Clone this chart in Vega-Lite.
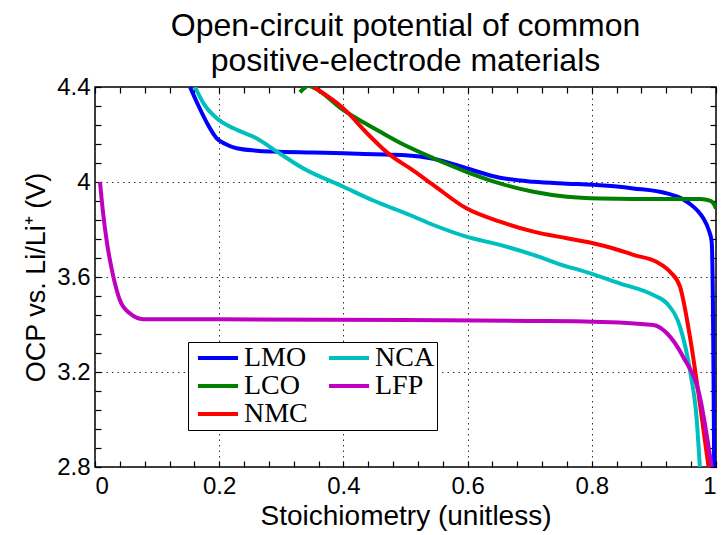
{
  "$schema": "https://vega.github.io/schema/vega-lite/v6.json",
  "width": 621,
  "height": 380,
  "autosize": {"type": "none"},
  "padding": {"left": 95, "top": 87, "right": 11, "bottom": 68},
  "background": "white",
  "config": {"view": {"stroke": "black", "strokeWidth": 1.5}, "font": "Liberation Sans"},
  "title": {
    "text": ["Open-circuit potential of common", "positive-electrode materials"],
    "fontSize": 32, "fontWeight": "normal", "font": "Liberation Sans", "color": "black",
    "lineHeight": 35, "offset": -3, "anchor": "middle"
  },
  "data": {"values": [
    {"m":"LMO","x":0.153,"y":4.40},{"m":"LMO","x":0.165,"y":4.33},{"m":"LMO","x":0.18,"y":4.25},{"m":"LMO","x":0.196,"y":4.184},{"m":"LMO","x":0.21,"y":4.16},{"m":"LMO","x":0.228,"y":4.142},{"m":"LMO","x":0.26,"y":4.132},{"m":"LMO","x":0.287,"y":4.128},{"m":"LMO","x":0.35,"y":4.124},{"m":"LMO","x":0.4,"y":4.121},{"m":"LMO","x":0.45,"y":4.117},{"m":"LMO","x":0.5,"y":4.113},{"m":"LMO","x":0.545,"y":4.098},{"m":"LMO","x":0.598,"y":4.058},{"m":"LMO","x":0.652,"y":4.018},{"m":"LMO","x":0.706,"y":4.001},{"m":"LMO","x":0.76,"y":3.993},{"m":"LMO","x":0.802,"y":3.988},{"m":"LMO","x":0.867,"y":3.973},{"m":"LMO","x":0.921,"y":3.952},{"m":"LMO","x":0.945,"y":3.93},{"m":"LMO","x":0.958,"y":3.908},{"m":"LMO","x":0.97,"y":3.88},{"m":"LMO","x":0.98,"y":3.845},{"m":"LMO","x":0.988,"y":3.80},{"m":"LMO","x":0.993,"y":3.749},{"m":"LMO","x":0.995,"y":3.5},{"m":"LMO","x":0.996,"y":3.2},{"m":"LMO","x":0.997,"y":2.8},
    {"m":"LCO","x":0.330,"y":4.378},{"m":"LCO","x":0.337,"y":4.395},{"m":"LCO","x":0.343,"y":4.405},{"m":"LCO","x":0.35,"y":4.40},{"m":"LCO","x":0.4,"y":4.303},{"m":"LCO","x":0.45,"y":4.225},{"m":"LCO","x":0.491,"y":4.165},{"m":"LCO","x":0.545,"y":4.1},{"m":"LCO","x":0.598,"y":4.043},{"m":"LCO","x":0.652,"y":3.994},{"m":"LCO","x":0.706,"y":3.959},{"m":"LCO","x":0.76,"y":3.938},{"m":"LCO","x":0.813,"y":3.931},{"m":"LCO","x":0.921,"y":3.928},{"m":"LCO","x":0.974,"y":3.928},{"m":"LCO","x":0.985,"y":3.925},{"m":"LCO","x":0.993,"y":3.918},{"m":"LCO","x":0.997,"y":3.905},{"m":"LCO","x":1.0,"y":3.889},
    {"m":"NMC","x":0.352,"y":4.4},{"m":"NMC","x":0.4,"y":4.31},{"m":"NMC","x":0.44,"y":4.2},{"m":"NMC","x":0.475,"y":4.114},{"m":"NMC","x":0.507,"y":4.058},{"m":"NMC","x":0.545,"y":3.987},{"m":"NMC","x":0.598,"y":3.889},{"m":"NMC","x":0.652,"y":3.833},{"m":"NMC","x":0.706,"y":3.791},{"m":"NMC","x":0.76,"y":3.763},{"m":"NMC","x":0.802,"y":3.742},{"m":"NMC","x":0.835,"y":3.72},{"m":"NMC","x":0.867,"y":3.693},{"m":"NMC","x":0.904,"y":3.664},{"m":"NMC","x":0.926,"y":3.622},{"m":"NMC","x":0.942,"y":3.559},{"m":"NMC","x":0.958,"y":3.349},{"m":"NMC","x":0.974,"y":3.068},{"m":"NMC","x":0.988,"y":2.8},
    {"m":"NCA","x":0.161,"y":4.4},{"m":"NCA","x":0.175,"y":4.33},{"m":"NCA","x":0.196,"y":4.268},{"m":"NCA","x":0.223,"y":4.226},{"m":"NCA","x":0.26,"y":4.184},{"m":"NCA","x":0.293,"y":4.128},{"m":"NCA","x":0.335,"y":4.058},{"m":"NCA","x":0.4,"y":3.98},{"m":"NCA","x":0.45,"y":3.92},{"m":"NCA","x":0.507,"y":3.861},{"m":"NCA","x":0.545,"y":3.819},{"m":"NCA","x":0.598,"y":3.77},{"m":"NCA","x":0.652,"y":3.735},{"m":"NCA","x":0.706,"y":3.693},{"m":"NCA","x":0.76,"y":3.644},{"m":"NCA","x":0.781,"y":3.629},{"m":"NCA","x":0.845,"y":3.573},{"m":"NCA","x":0.899,"y":3.524},{"m":"NCA","x":0.921,"y":3.489},{"m":"NCA","x":0.942,"y":3.391},{"m":"NCA","x":0.958,"y":3.208},{"m":"NCA","x":0.969,"y":2.998},{"m":"NCA","x":0.974,"y":2.8},
    {"m":"LFP","x":0.008,"y":4.0},{"m":"LFP","x":0.013,"y":3.87},{"m":"LFP","x":0.019,"y":3.749},{"m":"LFP","x":0.029,"y":3.608},{"m":"LFP","x":0.04,"y":3.503},{"m":"LFP","x":0.056,"y":3.447},{"m":"LFP","x":0.078,"y":3.422},{"m":"LFP","x":0.2,"y":3.422},{"m":"LFP","x":0.5,"y":3.419},{"m":"LFP","x":0.7,"y":3.415},{"m":"LFP","x":0.802,"y":3.412},{"m":"LFP","x":0.899,"y":3.398},{"m":"LFP","x":0.921,"y":3.363},{"m":"LFP","x":0.947,"y":3.264},{"m":"LFP","x":0.974,"y":3.096},{"m":"LFP","x":0.993,"y":2.8}
  ]},
  "layer": [
    {
      "mark": {"type": "line", "strokeWidth": 4, "clip": true, "interpolate": "monotone"},
      "encoding": {
        "x": {"field": "x", "type": "quantitative",
          "scale": {"domain": [0, 1], "nice": false, "zero": false},
          "axis": {"orient": "bottom", "values": [0, 0.2, 0.4, 0.6, 0.8, 1], "format": "~g",
            "labelFontSize": 24, "labelColor": "black", "labelPadding": 7, "labelFont": "Liberation Sans",
            "ticks": false, "domain": false, "grid": true, "gridDash": [1.5, 4], "gridColor": "#333", "gridWidth": 1,
            "title": "Stoichiometry (unitless)", "titleFontSize": 28, "titleFontWeight": "normal", "titleColor": "black",
            "titleFont": "Liberation Sans", "titlePadding": 4}},
        "y": {"field": "y", "type": "quantitative",
          "scale": {"domain": [2.8, 4.4], "nice": false, "zero": false},
          "axis": {"orient": "left", "values": [2.8, 3.2, 3.6, 4, 4.4], "format": "~g",
            "labelFontSize": 24, "labelColor": "black", "labelPadding": 5, "labelFont": "Liberation Sans",
            "ticks": false, "domain": false, "grid": true, "gridDash": [1.5, 4], "gridColor": "#333", "gridWidth": 1,
            "title": "OCP vs. Li/Li⁺ (V)", "titleFontSize": 27, "titleFontWeight": "normal", "titleColor": "black",
            "titleFont": "Liberation Sans", "titlePadding": 6}},
        "color": {"field": "m", "type": "nominal",
          "scale": {"domain": ["LMO", "LCO", "NMC", "NCA", "LFP"],
                    "range": ["#0000ff", "#008000", "#ff0000", "#00bfbf", "#bf00bf"]},
          "legend": {"orient": "none", "legendX": 93, "legendY": 255, "columns": 2, "title": null,
            "symbolType": "M-1.67,0H1.67", "symbolSize": 576, "symbolStrokeWidth": 4, "symbolOffset": 14,
            "labelFont": "Liberation Serif", "labelFontSize": 28, "labelColor": "black", "labelOffset": 12, "labelLimit": 300,
            "strokeColor": "black", "fillColor": "white", "padding": 2, "rowPadding": 0, "columnPadding": 12}}
      }
    },
    {
      "mark": {"type": "line", "opacity": 0},
      "encoding": {
        "detail": {"field": "m"},
        "x": {"field": "x", "type": "quantitative", "scale": {"domain": [0, 1], "nice": false, "zero": false},
          "axis": {"orient": "bottom", "values": [0,0.04,0.08,0.12,0.16,0.2,0.24,0.28,0.32,0.36,0.4,0.44,0.48,0.52,0.56,0.6,0.64,0.68,0.72,0.76,0.8,0.84,0.88,0.92,0.96,1],
            "labels": false, "title": null, "grid": false, "domain": false, "tickSize": -6, "tickColor": "black", "tickWidth": 1.2}},
        "y": {"field": "y", "type": "quantitative", "scale": {"domain": [2.8, 4.4], "nice": false, "zero": false},
          "axis": {"orient": "left", "values": [2.8,2.88,2.96,3.04,3.12,3.2,3.28,3.36,3.44,3.52,3.6,3.68,3.76,3.84,3.92,4.0,4.08,4.16,4.24,4.32,4.4],
            "labels": false, "title": null, "grid": false, "domain": false, "tickSize": -6, "tickColor": "black", "tickWidth": 1.2}}
      }
    },
    {
      "mark": {"type": "line", "opacity": 0},
      "encoding": {
        "detail": {"field": "m"},
        "x": {"field": "x", "type": "quantitative", "scale": {"domain": [0, 1], "nice": false, "zero": false},
          "axis": {"orient": "top", "values": [0,0.04,0.08,0.12,0.16,0.2,0.24,0.28,0.32,0.36,0.4,0.44,0.48,0.52,0.56,0.6,0.64,0.68,0.72,0.76,0.8,0.84,0.88,0.92,0.96,1],
            "labels": false, "title": null, "grid": false, "domain": false, "tickSize": -6, "tickColor": "black", "tickWidth": 1.2}},
        "y": {"field": "y", "type": "quantitative", "scale": {"domain": [2.8, 4.4], "nice": false, "zero": false},
          "axis": {"orient": "right", "values": [2.8,2.88,2.96,3.04,3.12,3.2,3.28,3.36,3.44,3.52,3.6,3.68,3.76,3.84,3.92,4.0,4.08,4.16,4.24,4.32,4.4],
            "labels": false, "title": null, "grid": false, "domain": false, "tickSize": -6, "tickColor": "black", "tickWidth": 1.2}}
      }
    }
  ],
  "resolve": {"axis": {"x": "independent", "y": "independent"}}
}
